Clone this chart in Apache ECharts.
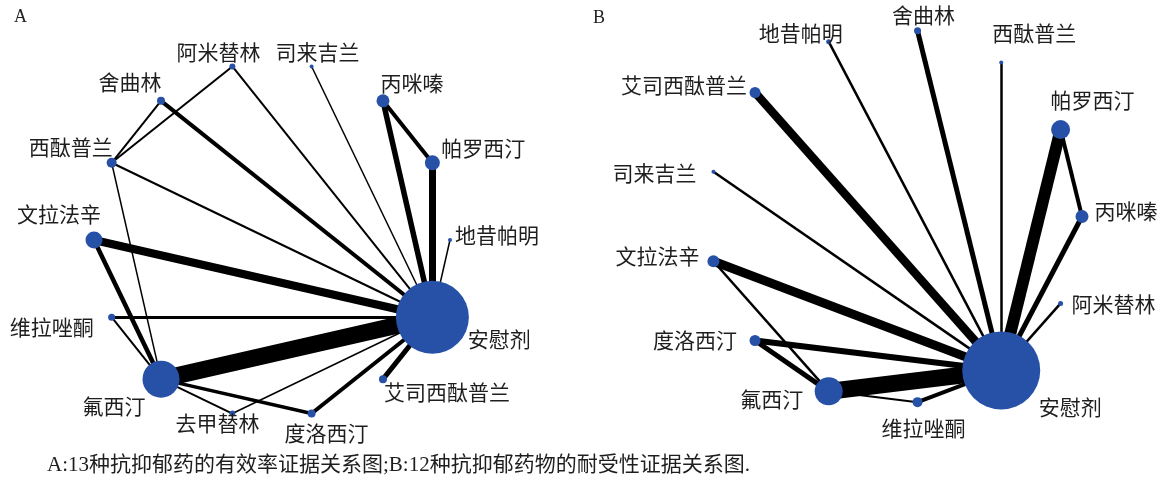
<!DOCTYPE html>
<html>
<head>
<meta charset="utf-8">
<script src="https://cdn.jsdelivr.net/npm/echarts@6/dist/echarts.min.js"></script>
<style>
  html, body { margin: 0; padding: 0; background: #fff; }
  #chart { width: 1162px; height: 479px; }
</style>
</head>
<body>
<div id="chart"></div>
<script>
// ---- Panel A: efficacy evidence network (13 antidepressants + placebo) ----
// Nodes are listed in circular order, counter-clockwise starting at the right.
const drugsA = ['地昔帕明', '帕罗西汀', '丙咪嗪', '司来吉兰', '阿米替林', '舍曲林', '西酞普兰',
                '文拉法辛', '维拉唑酮', '氟西汀', '去甲替林', '度洛西汀', '艾司西酞普兰', '安慰剂'];
// node weight (drawn as circle diameter)
const weightA = [4, 15, 13, 4, 6, 8, 10, 17, 7, 37, 6, 8, 8, 73];
// direct comparisons: [drug, drug, number of studies (drawn as line width)]
const linksA = [
  ['安慰剂', '氟西汀', 17],
  ['安慰剂', '文拉法辛', 8],
  ['安慰剂', '帕罗西汀', 7],
  ['安慰剂', '丙咪嗪', 5.5],
  ['安慰剂', '艾司西酞普兰', 5],
  ['安慰剂', '舍曲林', 4],
  ['安慰剂', '度洛西汀', 4],
  ['安慰剂', '维拉唑酮', 3],
  ['安慰剂', '阿米替林', 2],
  ['安慰剂', '西酞普兰', 2],
  ['安慰剂', '司来吉兰', 1.5],
  ['安慰剂', '地昔帕明', 1.5],
  ['安慰剂', '去甲替林', 1.5],
  ['丙咪嗪', '帕罗西汀', 4],
  ['文拉法辛', '氟西汀', 4.5],
  ['度洛西汀', '氟西汀', 3.5],
  ['舍曲林', '西酞普兰', 2],
  ['阿米替林', '西酞普兰', 2],
  ['西酞普兰', '氟西汀', 1.5],
  ['维拉唑酮', '氟西汀', 2],
  ['去甲替林', '氟西汀', 2]
];

// ---- Panel B: tolerability evidence network (12 antidepressants + placebo) ----
const drugsB = ['丙咪嗪', '帕罗西汀', '西酞普兰', '舍曲林', '地昔帕明', '艾司西酞普兰', '司来吉兰',
                '文拉法辛', '度洛西汀', '氟西汀', '维拉唑酮', '安慰剂', '阿米替林'];
const weightB = [13, 19, 4, 7, 5, 11, 4, 12, 11, 28, 10, 78, 5];
const linksB = [
  ['安慰剂', '氟西汀', 17],
  ['安慰剂', '帕罗西汀', 12],
  ['安慰剂', '文拉法辛', 9],
  ['安慰剂', '艾司西酞普兰', 8.5],
  ['安慰剂', '度洛西汀', 6],
  ['安慰剂', '舍曲林', 5],
  ['安慰剂', '丙咪嗪', 5],
  ['安慰剂', '维拉唑酮', 4],
  ['安慰剂', '地昔帕明', 2.5],
  ['安慰剂', '西酞普兰', 2.5],
  ['安慰剂', '司来吉兰', 2.5],
  ['安慰剂', '阿米替林', 2.5],
  ['帕罗西汀', '丙咪嗪', 4],
  ['度洛西汀', '氟西汀', 5],
  ['文拉法辛', '氟西汀', 2.5],
  ['氟西汀', '维拉唑酮', 2]
];

// ---- label placement (offset of label centre from node centre, px) ----
const labelOffsetA = {
  '地昔帕明': [47, -5], '帕罗西汀': [51, -15], '丙咪嗪': [29, -18], '司来吉兰': [6, -14],
  '阿米替林': [-14, -14], '舍曲林': [-31, -19], '西酞普兰': [-41, -16], '文拉法辛': [-35, -26],
  '维拉唑酮': [-60, 10], '氟西汀': [-47, 27], '去甲替林': [-15, 9], '度洛西汀': [15, 19],
  '艾司西酞普兰': [64, 13], '安慰剂': [67, 22]
};
const labelOffsetB = {
  '丙咪嗪': [44, -5], '帕罗西汀': [32, -30], '西酞普兰': [33, -30], '舍曲林': [6, -16],
  '地昔帕明': [-28, -9], '艾司西酞普兰': [-71, -7], '司来吉兰': [-59, 1], '文拉法辛': [-56, -5],
  '度洛西汀': [-60, 0], '氟西汀': [-57, 8], '维拉唑酮': [6, 26], '安慰剂': [69, 37],
  '阿米替林': [53, 1]
};

const NODE_COLOR = '#2751a7';
const CJK_FONT = '"Noto Sans CJK SC", sans-serif';

function networkSeries(polarIndex, names, weights, links, offsets) {
  return {
    type: 'graph',
    coordinateSystem: 'polar',
    polarIndex: polarIndex,
    layout: 'none',
    symbol: 'circle',
    animation: false,
    silent: true,
    // every node sits on the outer ring; its angle is its position in the list
    data: names.map((name, i) => ({
      name: name,
      value: [1, i],
      symbolSize: weights[i],
      label: { offset: offsets[name] }
    })),
    links: links.map(([s, t, w]) => ({ source: s, target: t, lineStyle: { width: w } })),
    itemStyle: { color: NODE_COLOR, borderWidth: 0 },
    lineStyle: { color: '#000', opacity: 1, curveness: 0 },
    label: {
      show: true,
      position: 'inside',
      formatter: '{b}',
      color: '#1e1e1e',
      fontSize: 21,
      fontFamily: CJK_FONT,
      align: 'center',
      verticalAlign: 'middle'
    },
    emphasis: { disabled: true }
  };
}

const chart = echarts.init(document.getElementById('chart'), null, { renderer: 'canvas' });
chart.setOption({
  backgroundColor: '#fff',
  animation: false,
  polar: [
    { center: [272, 240], radius: 178 },
    { center: [895, 216.5], radius: 187 }
  ],
  angleAxis: [
    { polarIndex: 0, type: 'value', min: 0, max: drugsA.length, startAngle: 0, clockwise: false, show: false },
    { polarIndex: 1, type: 'value', min: 0, max: drugsB.length, startAngle: 0, clockwise: false, show: false }
  ],
  radiusAxis: [
    { polarIndex: 0, type: 'value', min: 0, max: 1, show: false },
    { polarIndex: 1, type: 'value', min: 0, max: 1, show: false }
  ],
  series: [
    networkSeries(0, drugsA, weightA, linksA, labelOffsetA),
    networkSeries(1, drugsB, weightB, linksB, labelOffsetB)
  ],
  graphic: [
    { type: 'text', left: 14, top: 8, style: { text: 'A', font: '18px "Liberation Serif", serif', fill: '#222' } },
    { type: 'text', left: 593, top: 9, style: { text: 'B', font: '18px "Liberation Serif", serif', fill: '#222' } },
    {
      type: 'text', left: 47, top: 455,
      style: {
        text: 'A:13种抗抑郁药的有效率证据关系图;B:12种抗抑郁药物的耐受性证据关系图.',
        font: '21px "Liberation Serif", "Noto Sans CJK SC", serif',
        fill: '#1e1e1e'
      }
    }
  ]
});
</script>
</body>
</html>
